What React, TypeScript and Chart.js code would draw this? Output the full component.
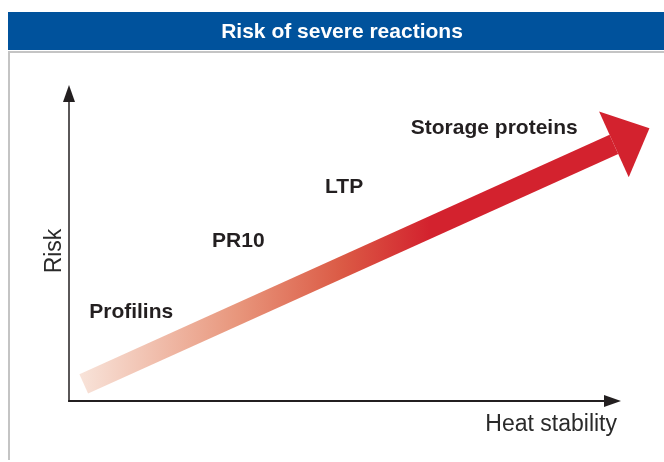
import React, { useEffect, useRef } from "react";
import { Chart, registerables } from "chart.js";

Chart.register(...registerables);

// ---- data ----
const chartTitle = "Risk of severe reactions";
const xAxisTitle = "Heat stability";
const yAxisTitle = "Risk";
const categories = ["Profilins", "PR10", "LTP", "Storage proteins"];
const heatStability = [0.37, 2.62, 4.69, 6.26];
const riskLevel = [2.63, 4.87, 6.58, 8.45];
const trendHeat = [0.27, 9.98];
const trendRisk = [0.54, 8.12];
const axisMin = 0;
const axisMax = 10;

// ---- style ----
const FONT = '"Liberation Sans", Arial, Helvetica, sans-serif';
const INK = "#231f20";
const BLUE = "#00529c";
const RED = "#d3222e";
const FRAME = "#c4c4c4";

const decorPlugin = {
  id: "decor",
  beforeDraw(chart: any) {
    const { ctx, width, height } = chart;
    ctx.save();
    ctx.fillStyle = "#ffffff";
    ctx.fillRect(0, 0, width, height);
    ctx.fillStyle = BLUE;
    ctx.fillRect(8, 12, width - 8, 38);
    ctx.strokeStyle = FRAME;
    ctx.lineWidth = 2;
    ctx.beginPath();
    ctx.moveTo(9, 460);
    ctx.lineTo(9, 52);
    ctx.lineTo(width, 52);
    ctx.stroke();
    ctx.restore();
  },
  afterDatasetsDraw(chart: any) {
    const { ctx, chartArea: a } = chart;
    ctx.save();
    // trend arrow head
    const pts = chart.getDatasetMeta(0).data;
    if (pts.length >= 2) {
      const p0 = pts[0];
      const p1 = pts[pts.length - 1];
      const dx = p1.x - p0.x;
      const dy = p1.y - p0.y;
      const len = Math.hypot(dx, dy) || 1;
      const ux = dx / len;
      const uy = dy / len;
      const nx = -uy;
      const ny = ux;
      const half = 36;
      const headLen = 39;
      ctx.fillStyle = RED;
      ctx.beginPath();
      ctx.moveTo(p1.x + nx * half, p1.y + ny * half);
      ctx.lineTo(p1.x + ux * headLen, p1.y + uy * headLen);
      ctx.lineTo(p1.x - nx * half, p1.y - ny * half);
      ctx.closePath();
      ctx.fill();
    }

    // axes
    ctx.strokeStyle = INK;
    ctx.fillStyle = INK;
    ctx.lineWidth = 1.5;
    ctx.beginPath();
    ctx.moveTo(a.left, a.bottom + 1);
    ctx.lineTo(a.left, a.top + 12);
    ctx.stroke();
    ctx.beginPath();
    ctx.moveTo(a.left, a.top);
    ctx.lineTo(a.left - 6, a.top + 17);
    ctx.lineTo(a.left + 6, a.top + 17);
    ctx.closePath();
    ctx.fill();

    ctx.lineWidth = 2;
    ctx.beginPath();
    ctx.moveTo(a.left - 0.75, a.bottom);
    ctx.lineTo(a.right - 5, a.bottom);
    ctx.stroke();
    ctx.beginPath();
    ctx.moveTo(a.right + 6, a.bottom);
    ctx.lineTo(a.right - 11, a.bottom - 6);
    ctx.lineTo(a.right - 11, a.bottom + 6);
    ctx.closePath();
    ctx.fill();

    // axis titles
    ctx.fillStyle = "#2a2a2a";
    ctx.font = `23px ${FONT}`;
    ctx.textAlign = "right";
    ctx.textBaseline = "alphabetic";
    ctx.fillText(xAxisTitle, a.right + 2, a.bottom + 30);
    ctx.save();
    ctx.translate(a.left - 8, a.top + 166);
    ctx.rotate(-Math.PI / 2);
    ctx.textAlign = "center";
    ctx.fillText(yAxisTitle, 0, 0);
    ctx.restore();

    // category labels
    const lp = chart.getDatasetMeta(1).data;
    ctx.fillStyle = INK;
    ctx.font = `bold 21px ${FONT}`;
    ctx.textAlign = "left";
    ctx.textBaseline = "alphabetic";
    lp.forEach((p: any, i: number) => {
      ctx.fillText(categories[i], p.x, p.y);
    });
    ctx.restore();
  },
};

export default function App() {
  const ref = useRef<HTMLCanvasElement | null>(null);

  useEffect(() => {
    if (!ref.current) return;
    const chart = new Chart(ref.current, {
      type: "scatter",
      data: {
        datasets: [
          {
            label: "trend",
            data: trendHeat.map((x, i) => ({ x, y: trendRisk[i] })),
            showLine: true,
            borderWidth: 21,
            borderCapStyle: "butt",
            pointRadius: 0,
            pointHoverRadius: 0,
            clip: false,
            borderColor: (c: any) => {
              const ch = c.chart;
              if (!ch.chartArea) return RED;
              const xs = ch.scales.x;
              const g = ch.ctx.createLinearGradient(
                xs.getPixelForValue(0.2),
                0,
                xs.getPixelForValue(6.6),
                0
              );
              g.addColorStop(0, "#f8e3d9");
              g.addColorStop(0.45, "#e8967c");
              g.addColorStop(0.75, "#db5a45");
              g.addColorStop(1, RED);
              return g;
            },
          } as any,
          {
            label: "labels",
            data: heatStability.map((x, i) => ({ x, y: riskLevel[i] })),
            pointRadius: 0,
            pointHoverRadius: 0,
            showLine: false,
            clip: false,
          } as any,
        ],
      },
      options: {
        responsive: false,
        animation: false,
        devicePixelRatio: 1,
        layout: { padding: { left: 69, right: 49, top: 0, bottom: 61 } },
        scales: {
          x: { type: "linear", min: axisMin, max: axisMax, display: false },
          y: { type: "linear", min: axisMin, max: axisMax, display: false },
        },
        plugins: {
          legend: { display: false },
          tooltip: { enabled: false },
          title: {
            display: true,
            text: chartTitle,
            color: "#ffffff",
            font: { family: FONT, size: 21, weight: "bold", lineHeight: 1.2 },
            padding: { top: 19.5, bottom: 40.3 },
          },
        },
      } as any,
      plugins: [decorPlugin],
    });
    return () => chart.destroy();
  }, []);

  return (
    <div style={{ position: "fixed", left: 0, top: 0, width: 664, height: 462 }}>
      <canvas
        ref={ref}
        width={664}
        height={462}
        style={{ display: "block", width: 664, height: 462 }}
      />
    </div>
  );
}
